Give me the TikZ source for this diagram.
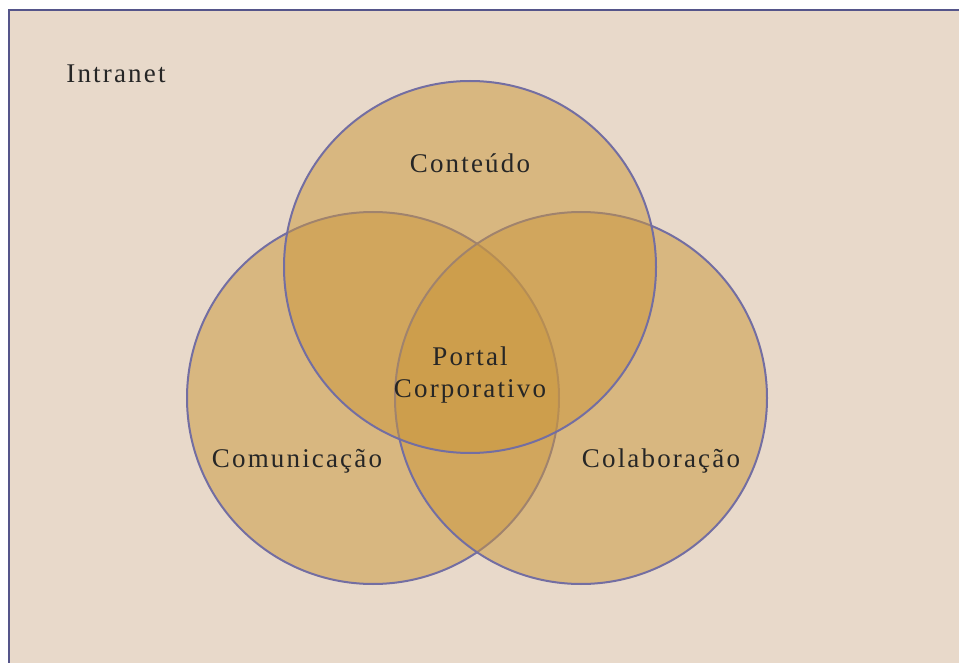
\documentclass[tikz,border=0pt]{standalone}
\usepackage{fontspec}
\setmainfont[LetterSpace=8]{Liberation Serif}
\definecolor{bgc}{HTML}{E8D9CA}
\definecolor{edgec}{HTML}{736EA2}
\definecolor{framec}{HTML}{55558A}
\definecolor{circc}{RGB}{203,152,62}
\begin{document}
\begin{tikzpicture}[x=1pt,y=-1pt,
  venn/.style={fill=circc, fill opacity=0.52, draw=edgec, line width=2pt},
  lbl/.style={font=\fontsize{27}{32}\selectfont, text=black!85, inner sep=0pt, align=center}]
\useasboundingbox (0,0) rectangle (959,663);
\fill[white] (0,0) rectangle (959,663);
\begin{scope}
\clip (0,0) rectangle (959,663);
\draw[framec, line width=2.8pt, fill=bgc] (9,10) rectangle (975,680);
\end{scope}
\draw[venn] (373,398) circle (186);
\draw[venn] (581,398) circle (186);
\draw[venn] (470,267) circle (186);
\node[lbl] (intranet) at (116,74) {Intranet};
\node[lbl] (conteudo) at (470,163) {Conteúdo};
\node[lbl] (portal) at (470,375) {Portal\\Corporativo};
\node[lbl] (comunicacao) at (297,461) {Comunicação};
\node[lbl] (colaboracao) at (661,461) {Colaboração};
\end{tikzpicture}
\end{document}
